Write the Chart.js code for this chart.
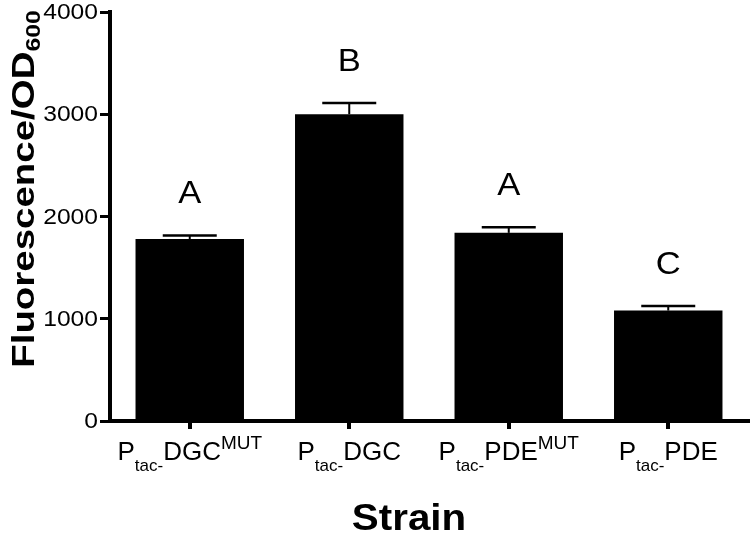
<!DOCTYPE html>
<html>
<head>
<meta charset="utf-8">
<script src="https://cdn.jsdelivr.net/npm/chart.js@4.4.1/dist/chart.umd.min.js"></script>
<style>
  html,body{margin:0;padding:0;background:#fff}
  #wrap{width:750px;height:536px}
</style>
</head>
<body>
<div id="wrap"><canvas id="chart" width="750" height="536"></canvas></div>
<script>
/* ---- data ---- */
const promoter    = 'P';
const promoterSub = 'tac-';
const strainNames = ['DGC','DGC','PDE','PDE'];
const strainSup   = ['MUT','','MUT',''];
const means       = [1780, 3000, 1840, 1080];
const sems        = [35, 110, 55, 45];
const groups      = ['A','B','A','C'];
const yTicks      = [0, 1000, 2000, 3000, 4000];
const yTitle      = 'Fluorescence/OD';
const yTitleSub   = '600';
const xTitle      = 'Strain';

const FONT = "'Liberation Sans', Arial, Helvetica, sans-serif";

/* draws text horizontally stretched by sx, anchored left at x */
function stretchText(ctx, txt, x, y, sx){
  ctx.save(); ctx.translate(x, y); ctx.scale(sx, 1); ctx.fillText(txt, 0, 0); ctx.restore();
}
function textW(ctx, txt, font, sx){ ctx.font = font; return ctx.measureText(txt).width * sx; }

const decorations = {
  id:'decorations',
  afterDatasetsDraw(chart){
    const {ctx, scales:{x, y}} = chart;
    const meta = chart.getDatasetMeta(0);
    ctx.save();
    ctx.fillStyle = '#000'; ctx.strokeStyle = '#000';

    /* error bars + group letters */
    meta.data.forEach((bar, i)=>{
      const top = y.getPixelForValue(means[i] + sems[i]);
      ctx.lineWidth = 2;
      ctx.beginPath(); ctx.moveTo(bar.x, bar.y); ctx.lineTo(bar.x, top); ctx.stroke();
      ctx.lineWidth = 2.5;
      ctx.beginPath(); ctx.moveTo(bar.x - 27, top); ctx.lineTo(bar.x + 27, top); ctx.stroke();

      const lf = `32px ${FONT}`;
      const lw = textW(ctx, groups[i], lf, 1.08);
      ctx.textBaseline = 'alphabetic'; ctx.textAlign = 'left';
      stretchText(ctx, groups[i], bar.x - lw/2, top - 32, 1.08);
    });

    /* category labels: P_tac- NAME ^MUT */
    const fMain = `26px ${FONT}`, fSub = `17px ${FONT}`, fSup = `19px ${FONT}`;
    ctx.textBaseline = 'alphabetic'; ctx.textAlign = 'left';
    strainNames.forEach((nm, i)=>{
      const cx = x.getPixelForValue(i);
      const wP = textW(ctx, promoter, fMain, 1);
      const wS = textW(ctx, promoterSub, fSub, 1);
      const wN = textW(ctx, nm, fMain, 1);
      const wU = strainSup[i] ? textW(ctx, strainSup[i], fSup, 1) : 0;
      let px = cx - (wP + wS + wN + wU)/2;
      ctx.font = fMain; ctx.fillText(promoter, px, 460); px += wP;
      ctx.font = fSub;  ctx.fillText(promoterSub, px, 471); px += wS;
      ctx.font = fMain; ctx.fillText(nm, px, 460); px += wN;
      if(strainSup[i]){ ctx.font = fSup; ctx.fillText(strainSup[i], px, 449); }
    });

    /* y tick labels, from the scale's own ticks */
    const tf = `22px ${FONT}`;
    y.ticks.forEach(t=>{
      const py = y.getPixelForValue(t.value);
      const s = String(t.value);
      const w = textW(ctx, s, tf, 1.12);
      ctx.textBaseline = 'middle';
      stretchText(ctx, s, 98 - w, py + 1, 1.12);
    });

    /* x title */
    const xf = `bold 36px ${FONT}`;
    const xw = textW(ctx, xTitle, xf, 1.12);
    ctx.textBaseline = 'alphabetic';
    stretchText(ctx, xTitle, 409 - xw/2, 530, 1.12);

    /* y title, rotated, with subscript */
    const yf = `bold 31px ${FONT}`, ysf = `bold 20px ${FONT}`;
    const sy = 1.24;
    const w1 = textW(ctx, yTitle, yf, sy), w2 = textW(ctx, yTitleSub, ysf, sy);
    ctx.save();
    ctx.translate(34, 189);
    ctx.rotate(-Math.PI/2);
    let tx = -(w1 + w2)/2;
    ctx.font = yf; ctx.save(); ctx.translate(tx, 0); ctx.scale(sy, 1); ctx.fillText(yTitle, 0, 0); ctx.restore();
    tx += w1;
    ctx.font = ysf; ctx.save(); ctx.translate(tx, 6); ctx.scale(sy, 1); ctx.fillText(yTitleSub, 0, 0); ctx.restore();
    ctx.restore();

    ctx.restore();
  }
};

new Chart(document.getElementById('chart'), {
  type:'bar',
  data:{
    labels: strainNames.map((n,i)=>promoter+promoterSub+n+strainSup[i]),
    datasets:[{
      data: means,
      backgroundColor:'#000',
      borderWidth:0,
      barPercentage:0.68,
      categoryPercentage:1
    }]
  },
  options:{
    responsive:false,
    animation:false,
    layout:{padding:{top:12, right:2, left:0, bottom:0}},
    plugins:{legend:{display:false}, tooltip:{enabled:false}},
    scales:{
      x:{
        grid:{display:true, drawOnChartArea:false, offset:false, tickLength:8, lineWidth:4, color:'#000'},
        border:{display:true, width:4, color:'#000'},
        ticks:{display:false},
        afterFit(s){ s.height = 115; }
      },
      y:{
        min:0, max:4000,
        afterBuildTicks(s){ s.ticks = yTicks.map(v=>({value:v})); },
        ticks:{display:false},
        grid:{display:true, drawOnChartArea:false, tickLength:10, lineWidth:3, color:'#000'},
        border:{display:true, width:4, color:'#000'},
        afterFit(s){ s.width = 110; }
      }
    }
  },
  plugins:[decorations]
});
</script>
</body>
</html>
